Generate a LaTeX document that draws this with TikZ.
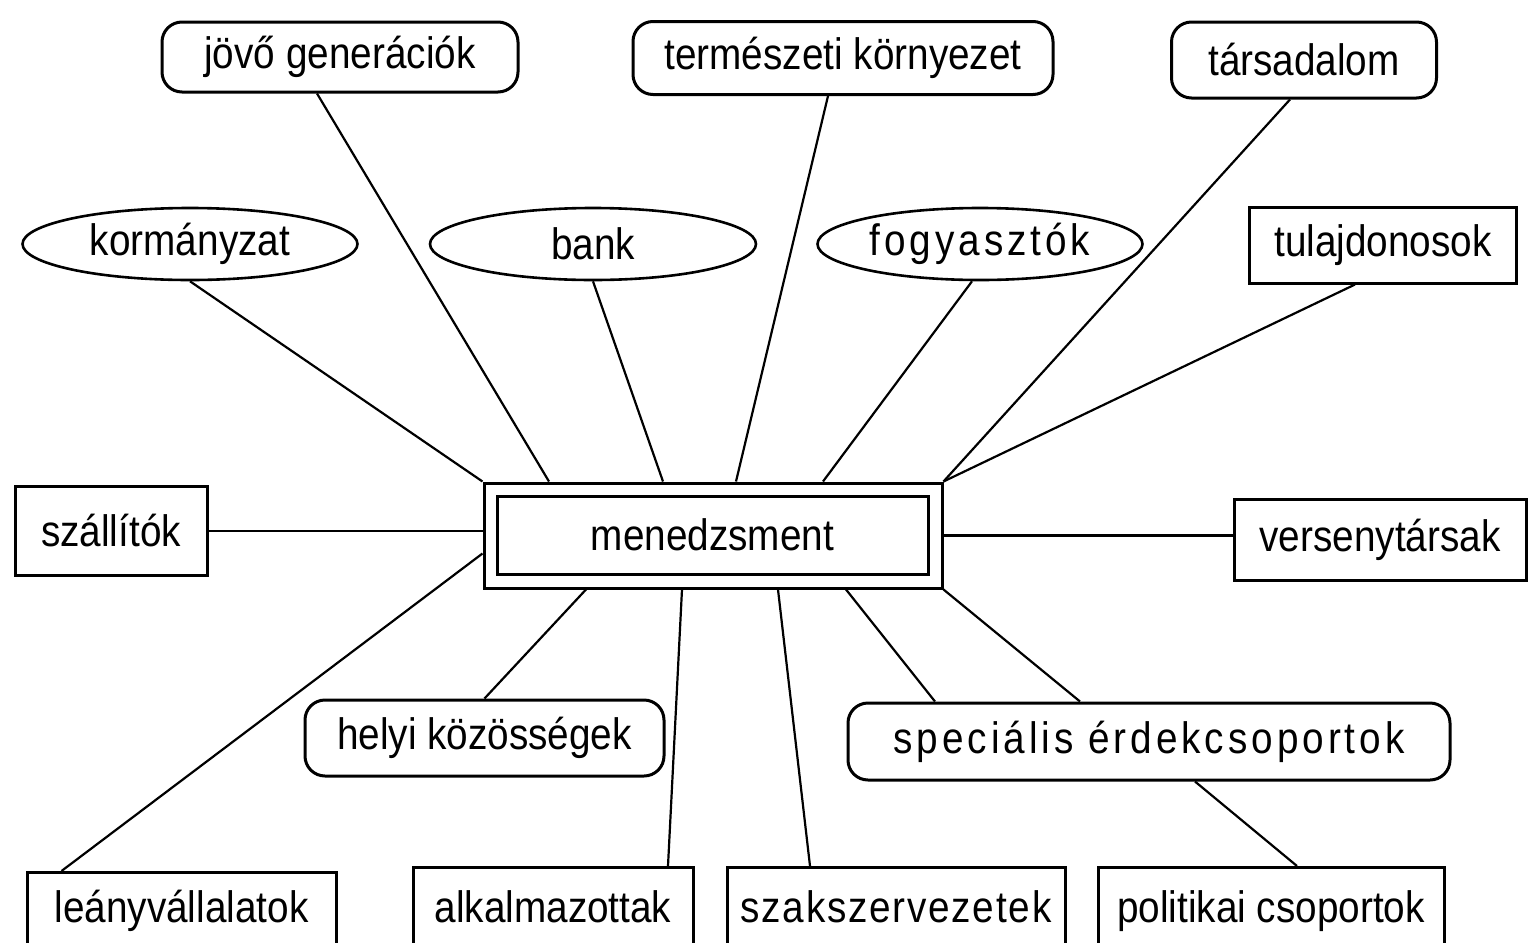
\documentclass[tikz,border=0pt]{standalone}
\usepackage{fontspec}
\setmainfont{Liberation Sans}[FakeStretch=0.88]
\newfontfamily\spacedfont{Liberation Sans}[FakeStretch=0.88, LetterSpace=9]
\newfontfamily\looserfont{Liberation Sans}[FakeStretch=0.88, LetterSpace=4]
\usetikzlibrary{shapes.geometric, positioning}

\begin{document}
\begin{tikzpicture}[x=0.5pt, y=-0.5pt,
    every node/.style={font=\fontsize{22}{26}\selectfont, inner sep=0pt},
    box/.style={draw, line width=1.5pt},
    rbox/.style={box, rounded corners=10pt},
    oval/.style={draw, ellipse, line width=1.3pt},
    link/.style={line width=1.1pt}]
    \clip (0,0) rectangle (1528,943);

    % Upper stakeholders
    \node[rbox, minimum width=178pt, minimum height=35pt] (jov) at (340,57) {jövő generációk};
    \node[rbox, minimum width=210pt, minimum height=36.5pt] (term) at (843,58) {természeti környezet};
    \node[rbox, minimum width=132.5pt, minimum height=38pt] (tars) at (1304,60) {társadalom};
    \node[oval, minimum width=167.5pt, minimum height=36pt] (korm) at (190,244) {kormányzat};
    \node[oval, minimum width=163pt, minimum height=36pt] (bank) at (593,244) {bank};
    \node[oval, minimum width=162.5pt, minimum height=36pt] (fogy) at (980,244) {\spacedfont fogyasztók};
    \node[box, minimum width=133.5pt, minimum height=38pt] (tul) at (1383,245) {tulajdonosok};

    % Middle row
    \node[box, minimum width=96pt, minimum height=44.5pt] (szall) at (111,531) {szállítók};
    \node[box, minimum width=229pt, minimum height=52.5pt] (men) at (713,535.5) {};
    \node[box, minimum width=215.5pt, minimum height=39pt] (menin) at (712.5,535) {menedzsment};
    \node[box, minimum width=146pt, minimum height=40.5pt] (vers) at (1380,539.5) {versenytársak};

    % Lower stakeholders
    \node[rbox, minimum width=179.5pt, minimum height=38pt] (helyi) at (484.5,738) {helyi közösségek};
    \node[rbox, minimum width=301pt, minimum height=38.5pt] (spec) at (1149,741.5) {\spacedfont speciális érdekcsoportok};
    \node[box, anchor=north, minimum width=154.5pt, text height=25pt, text depth=40pt] (leany) at (181.5,871) {leányvállalatok};
    \node[box, anchor=north, minimum width=140pt, text height=27.5pt, text depth=40pt] (alk) at (553,866) {alkalmazottak};
    \node[box, anchor=north, minimum width=169pt, text height=27.5pt, text depth=40pt] (szak) at (896,866) {\looserfont szakszervezetek};
    \node[box, anchor=north, minimum width=173pt, text height=27.5pt, text depth=40pt] (pol) at (1271,866) {politikai csoportok};

    % Connectors
    \draw[link] (korm.south) -- (men.north west);
    \draw[link] ([xshift=-11.5pt]jov.south) -- ([xshift=-82pt]men.north);
    \draw[link] (bank.south) -- ([xshift=-25pt]men.north);
    \draw[link] ([xshift=-7.5pt]term.south) -- ([xshift=11.5pt]men.north);
    \draw[link] ([xshift=-4pt]fogy.south) -- ([xshift=55pt]men.north);
    \draw[link] ([xshift=-7pt]tars.south) -- (men.north east);
    \draw[link] ([xshift=-14pt]tul.south) -- (men.north east);
    \draw[link] (szall.east) -- (szall.east -| men.west);
    \draw[link] (men.east) -- (men.east -| vers.west);
    \draw[link] ([xshift=-60pt]leany.north) -- ([yshift=-9pt]men.west);
    \draw[link] (helyi.north) -- ([xshift=-63.5pt]men.south);
    \draw[link] ([xshift=57.5pt]alk.north) -- ([xshift=-15.5pt]men.south);
    \draw[link] ([xshift=-43pt]szak.north) -- ([xshift=32.5pt]men.south);
    \draw[link] ([xshift=-107pt]spec.north) -- ([xshift=66.5pt]men.south);
    \draw[link] ([xshift=-34.5pt]spec.north) -- (men.south east);
    \draw[link] ([xshift=23pt]spec.south) -- ([xshift=13pt]pol.north);
\end{tikzpicture}
\end{document}
